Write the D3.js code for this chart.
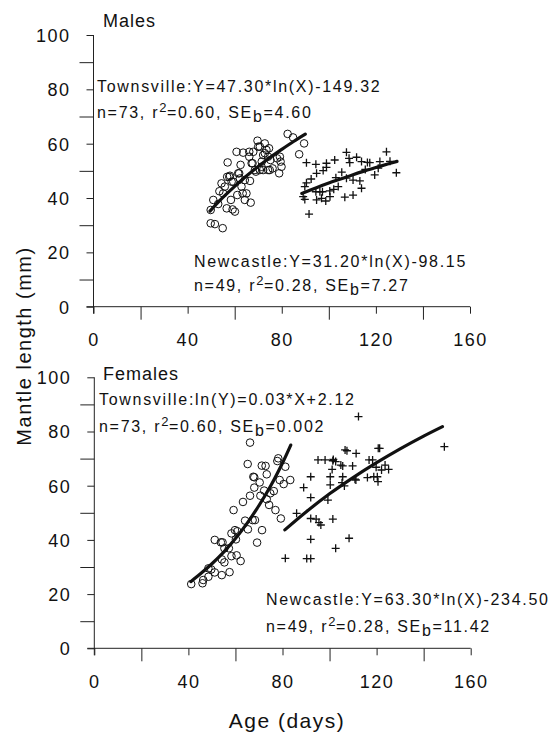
<!DOCTYPE html>
<html><head><meta charset="utf-8">
<script src="https://cdn.jsdelivr.net/npm/d3@7"></script>
<style>
body{margin:0;background:#fff;}
svg text{font-family:"Liberation Sans",Arial,Helvetica,sans-serif;fill:#111;}
</style></head>
<body><svg id="c" width="552" height="739"></svg>
<script>
// ---------- data ----------
const xTickLabels = [0, 40, 80, 120, 160];
const xTickMinor = [20, 60, 100, 140];
const yTickLabels = [0, 20, 40, 60, 80, 100];
const yTickMinor = [10, 30, 50, 70, 90];

// Males, Townsville (age days, mantle length mm)
const maleTownsville = [[49.8,35.6],[50.9,39.3],[49.8,30.7],[51.6,30.4],[54.9,28.9],[53.0,37.8],[54.4,45.4],[55.1,41.7],[57.0,53.1],[56.6,36.2],[58.0,48.2],[58.4,39.3],[59.4,46.0],[60.1,35.0],[60.8,57.0],[61.1,41.1],[61.9,49.1],[62.5,52.2],[62.9,44.2],[63.6,56.7],[64.3,46.6],[65.0,41.7],[66.2,55.2],[66.8,38.3],[67.2,52.8],[67.9,57.0],[69.0,49.7],[69.7,61.1],[70.7,58.9],[71.4,51.5],[72.1,55.8],[72.8,60.1],[73.5,57.7],[74.2,50.3],[74.6,58.3],[75.2,54.0],[76.1,50.9],[78.0,54.6],[78.9,49.1],[79.5,53.4],[79.9,51.5],[82.5,63.6],[84.8,62.3],[89.5,60.1],[87.4,56.1],[55.8,44.2],[56.8,47.8],[58.7,46.0],[59.1,35.8],[61.5,49.1],[63.4,41.7],[64.3,39.3],[66.5,46.3],[67.6,52.8],[68.6,50.3],[70.0,58.9],[70.7,50.3],[72.1,50.3],[72.8,56.5],[74.9,50.3],[66.2,57.0],[57.7,47.8],[53.5,42.5],[71.5,53.4],[74.2,55.2],[79.2,55.2],[62.2,47.2]];
// Males, Newcastle
const maleNewcastle = [[107.5,56.8],[90.5,53],[94.5,52.4],[99,52.8],[102.5,54],[94.8,49.1],[97.6,50.1],[99,51.3],[108.6,54.6],[111.8,55],[108.9,53],[113.9,53.4],[116.4,53.1],[121.7,53.4],[124.5,57],[119.5,48.5],[107.5,47.3],[110.3,46.6],[113.2,46.3],[113.9,43.6],[90.5,45.6],[89.8,44.2],[89.1,40.5],[89.8,39.5],[94.5,42.3],[96.2,42.3],[97.3,42.3],[94.8,39.3],[96.9,39.9],[98.7,38.9],[100.4,42.6],[102.1,43.2],[104,44.2],[106.8,40.3],[110.3,41.1],[91.6,34.1],[128.7,49.3],[117.4,53],[105.5,49.5],[100.5,40.5],[103,47.5],[115.5,50.5],[121,51],[92.5,47],[126,53.5]];
// Females, Townsville
const femaleTownsville = [[41.2,23.7],[46.0,24.0],[46.3,25.2],[48.5,26.4],[48.5,29.5],[51.2,28.0],[51.2,40.0],[53.8,39.1],[54.5,39.1],[54.2,32.8],[55.3,31.7],[54.2,27.0],[55.3,36.9],[57.2,36.9],[57.5,28.1],[58.3,42.4],[58.3,34.0],[59.2,51.0],[59.8,43.6],[60.2,40.2],[60.5,34.3],[60.8,43.2],[62.2,32.2],[63.2,54.0],[64.1,47.1],[65.2,68.0],[65.3,43.9],[66.2,75.9],[66.2,56.3],[67.3,47.3],[68.0,63.1],[68.0,59.3],[68.3,47.3],[69.2,39.0],[70.3,61.2],[70.6,56.3],[71.3,43.6],[72.2,58.2],[72.8,67.3],[73.3,64.2],[73.3,55.0],[74.3,52.9],[74.8,57.2],[76.3,58.0],[77.0,51.0],[77.8,69.1],[78.2,70.1],[78.8,62.1],[79.3,47.9],[80.5,60.6],[81.2,67.0],[83.3,62.1],[49.7,29.1],[71.2,67.4],[67.6,63.3]];
// Females, Newcastle
const femaleNewcastle = [[81.2,33.2],[86.0,49.8],[89.0,59.3],[90.3,33.1],[92.0,33.1],[92.0,40.2],[92.0,55.6],[92.0,63.3],[92.0,47.9],[94.3,47.7],[95.5,46.4],[96.3,45.5],[95.1,69.5],[98.1,69.5],[99.3,54.7],[100.3,60.3],[100.3,63.3],[101.1,66.0],[101.4,69.2],[102.6,68.9],[101.4,47.7],[102.6,36.9],[105.6,63.3],[105.6,67.3],[104.8,67.6],[106.3,59.9],[107.4,72.9],[109.8,67.3],[108.3,40.6],[110.8,62.4],[111.3,71.9],[112.3,85.5],[116.8,69.5],[116.1,63.0],[118.3,69.5],[119.8,66.8],[120.3,63.3],[120.6,61.5],[121.3,73.8],[122.1,65.8],[123.6,67.6],[125.1,66.0],[148.8,74.4],[105.3,61.1],[118.8,63.3],[120.7,73.8],[101.6,69.7],[106.6,73.2],[111.2,62.1]];

// fitted curves
const fitMaleTownsville = [[49.5,35.2],[55,40.2],[60,44.3],[65,48.1],[70,51.6],[75,54.9],[80,57.9],[85,60.8],[90,63.5]];
const fitMaleNewcastle = [[88.5,41.7],[95,43.9],[100,45.5],[105,47.0],[110,48.5],[115,49.9],[120,51.2],[125,52.5],[129,53.5]];
const fitFemaleTownsville = [[41,24.6],[45,27.4],[50,31.2],[55,35.5],[60,40.5],[65,46.2],[70,52.7],[75,60.0],[80,68.4],[83.5,75.0]];
const fitFemaleNewcastle = [[81,43.7],[90,50.3],[100,57.0],[110,63.0],[120,68.5],[130,73.6],[140,78.3],[148,81.8]];

const panelTitles = ["Males", "Females"];
const annotations = [
  [ {head:"Townsville:Y=47.30*ln(X)-149.32", n:"73", r2:"0.60", se:"4.60"},
    {head:"Newcastle:Y=31.20*ln(X)-98.15", n:"49", r2:"0.28", se:"7.27"} ],
  [ {head:"Townsville:ln(Y)=0.03*X+2.12", n:"73", r2:"0.60", se:"0.002"},
    {head:"Newcastle:Y=63.30*ln(X)-234.50", n:"49", r2:"0.28", se:"11.42"} ]
];
const xTitle = "Age (days)";
const yTitle = "Mantle length (mm)";

// ---------- layout ----------
const svg = d3.select("#c");
const panels = [
  {x0:93.5, x1:470, y0:306.7, y1:35, title:panelTitles[0], tx:103, ty:27,
   tw:maleTownsville, nc:maleNewcastle, ftw:fitMaleTownsville, fnc:fitMaleNewcastle,
   ann:annotations[0], annPos:[[97,92,118],[194,267,291]], xlabY:346},
  {x0:94.3, x1:470.7, y0:648.3, y1:377.3, title:panelTitles[1], tx:103, ty:380,
   tw:femaleTownsville, nc:femaleNewcastle, ftw:fitFemaleTownsville, fnc:fitFemaleNewcastle,
   ann:annotations[1], annPos:[[99,405,432],[266,605,632]], xlabY:688}
];

const labelFont = "18px";
panels.forEach(p => {
  const x = d3.scaleLinear().domain([0,160]).range([p.x0,p.x1]);
  const y = d3.scaleLinear().domain([0,100]).range([p.y0,p.y1]);
  const g = svg.append("g");

  // y axis
  const ya = g.append("g").attr("transform",`translate(${p.x0},0)`)
    .call(d3.axisLeft(y).tickValues(yTickLabels).tickSize(7).tickPadding(16).tickSizeOuter(0));
  g.append("g").attr("transform",`translate(${p.x0},0)`)
    .call(d3.axisLeft(y).tickValues(yTickMinor).tickSize(14).tickFormat("").tickSizeOuter(0))
    .select(".domain").remove();
  ya.select(".domain").attr("d",`M0,${y(100)}V${y(0)+7}`);
  // x axis
  const xa = g.append("g").attr("transform",`translate(0,${p.y0})`)
    .call(d3.axisBottom(x).tickValues(xTickLabels).tickSize(7).tickPadding(p.xlabY - p.y0 - 7 - 13).tickSizeOuter(0));
  g.append("g").attr("transform",`translate(0,${p.y0})`)
    .call(d3.axisBottom(x).tickValues(xTickMinor).tickSize(13).tickFormat("").tickSizeOuter(0))
    .select(".domain").remove();
  xa.select(".domain").attr("d",`M${x(0)-7},0H${x(160)}`);
  g.selectAll(".domain, .tick line").attr("stroke","#222").attr("stroke-width",1);
  g.selectAll(".tick text").attr("font-size",labelFont).attr("letter-spacing","1.5px")
    .attr("fill","#111").attr("font-family",'"Liberation Sans",Arial,sans-serif');
  ya.selectAll(".tick text").attr("dy","0.36em");
  xa.selectAll(".tick text").attr("dy","0.71em");

  // points
  g.append("g").selectAll("circle").data(p.tw).join("circle")
    .attr("cx",d=>x(d[0])).attr("cy",d=>y(d[1])).attr("r",3.8)
    .attr("fill","none").attr("stroke","#111").attr("stroke-width",1);
  const cr = 4;
  g.append("g").selectAll("path").data(p.nc).join("path")
    .attr("d",d=>`M${x(d[0])-cr},${y(d[1])}h${2*cr}M${x(d[0])},${y(d[1])-cr}v${2*cr}`)
    .attr("stroke","#111").attr("stroke-width",1.3).attr("fill","none");

  // fit lines
  const line = d3.line().x(d=>x(d[0])).y(d=>y(d[1])).curve(d3.curveCatmullRom);
  [p.ftw,p.fnc].forEach(f => g.append("path").attr("d",line(f))
    .attr("fill","none").attr("stroke","#111").attr("stroke-width",3.2).attr("stroke-linecap","round"));

  // title
  g.append("text").attr("x",p.tx).attr("y",p.ty).attr("font-size","18px")
    .attr("letter-spacing","1px").text(p.title);

  // annotations
  p.ann.forEach((a,i) => {
    const [ax,ay1,ay2] = p.annPos[i];
    g.append("text").attr("x",ax).attr("y",ay1).attr("font-size","16px")
      .attr("letter-spacing","1.7px").text(a.head);
    const t = g.append("text").attr("x",ax).attr("y",ay2).attr("font-size","16px")
      .attr("letter-spacing","1.7px");
    t.append("tspan").text(`n=${a.n}, r`);
    t.append("tspan").attr("dy",-6).attr("font-size","13px").attr("letter-spacing","0.5px").text("2");
    t.append("tspan").attr("dy",6).text(`=${a.r2}, SE`);
    t.append("tspan").attr("dy",4).text("b");
    t.append("tspan").attr("dy",-4).text(`=${a.se}`);
  });
});

// axis titles
svg.append("text").attr("transform","translate(31,346) rotate(-90)")
  .attr("text-anchor","middle").attr("font-size","20px").attr("letter-spacing","1.5px").text(yTitle);
svg.append("text").attr("x",287).attr("y",728)
  .attr("text-anchor","middle").attr("font-size","21px").attr("letter-spacing","1.5px").text(xTitle);
</script></body></html>
